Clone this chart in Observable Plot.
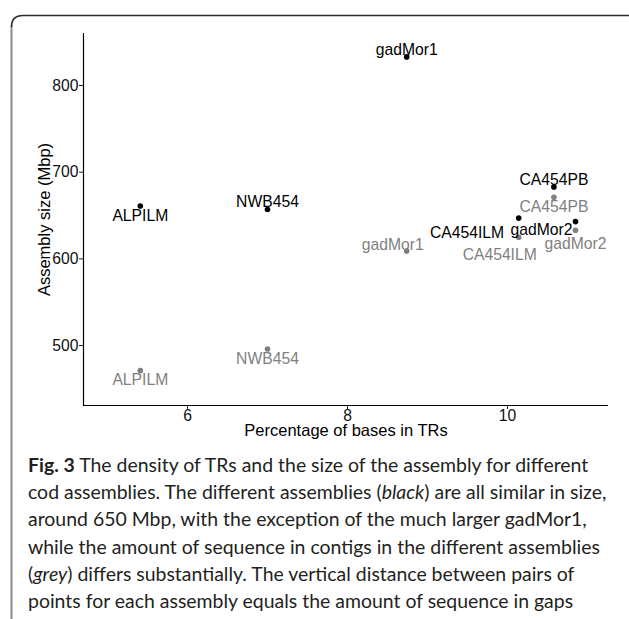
<!DOCTYPE html>
<html>
<head>
<meta charset="utf-8">
<script src="https://cdn.jsdelivr.net/npm/d3@7"></script>
<script src="https://cdn.jsdelivr.net/npm/@observablehq/plot@0.6"></script>
<style>
  html, body { margin: 0; padding: 0; background: #fff; }
  #page { position: relative; width: 629px; height: 619px; overflow: hidden; background: #fff; }
  #frame, #chart { position: absolute; left: 0; top: 0; }
</style>
</head>
<body>
<div id="page">
  <svg id="frame" width="629" height="619"></svg>
  <div id="chart"></div>
</div>
<script>
// ---- data ----
const assemblies   = ["ALPILM", "NWB454", "gadMor1", "CA454PB", "CA454ILM", "gadMor2"];
const trPercent    = [5.41, 7.00, 8.74, 10.58, 10.14, 10.85];   // % of bases in TRs
const assemblySize = [661, 657, 833, 683, 647, 643];            // black: assembly size (Mbp)
const contigSize   = [471, 496, 609, 671, 625, 633];            // grey: sequence in contigs (Mbp)
const xTicks = [6, 8, 10];
const yTicks = [500, 600, 700, 800];
const xDomain = [4.7, 11.2625];
const yDomain = [430.8, 860];
const xTitle = "Percentage of bases in TRs";
const yTitle = "Assembly size (Mbp)";
const captionLines = [
  [["b", "Fig. 3"], ["n", " The density of TRs and the size of the assembly for different"]],
  [["n", "cod assemblies. The different assemblies ("], ["i", "black"], ["n", ") are all similar in size,"]],
  [["n", "around 650 Mbp, with the exception of the much larger gadMor1,"]],
  [["n", "while the amount of sequence in contigs in the different assemblies"]],
  [["n", "("], ["i", "grey"], ["n", ") differs substantially. The vertical distance between pairs of"]],
  [["n", "points for each assembly equals the amount of sequence in gaps"]]
];

// ---- table built from the arrays ----
const rows = assemblies.flatMap((name, i) => [
  {name, series: "contigs", x: trPercent[i], y: contigSize[i]},
  {name, series: "assembly", x: trPercent[i], y: assemblySize[i]}
]);

// label placement (repel-style offsets, in pixels)
const nudge = {
  "assembly|ALPILM": [0, 9.5],   "contigs|ALPILM": [0, 9.5],
  "assembly|NWB454": [0, -7],    "contigs|NWB454": [0, 9.5],
  "assembly|gadMor1": [0, -7],   "contigs|gadMor1": [-14, -6],
  "assembly|CA454PB": [0, -7],   "contigs|CA454PB": [0, 9.5],
  "assembly|CA454ILM": [-51.7, 15], "contigs|CA454ILM": [-19, 18],
  "assembly|gadMor2": [-34, 8],  "contigs|gadMor2": [0, 13.5]
};
const colors = {assembly: "#000000", contigs: "#7f7f7f"};

const labelMarks = ["contigs", "assembly"].flatMap(s =>
  rows.filter(d => d.series === s).map(d => {
    const [dx, dy] = nudge[s + "|" + d.name];
    return Plot.text([d], {x: "x", y: "y", text: "name", dx, dy, fill: colors[s],
      lineAnchor: "middle", textAnchor: "middle", fontSize: 15.7});
  })
);

const chart = Plot.plot({
  width: 629,
  height: 445,
  marginLeft: 83,
  marginTop: 33,
  marginRight: 21,
  marginBottom: 40,
  x: {domain: xDomain},
  y: {domain: yDomain},
  style: {fontFamily: "'Liberation Sans', Arial, sans-serif", fontSize: "15.7px", color: "#000", background: "transparent", overflow: "visible"},
  marks: [
    Plot.axisX({ticks: xTicks, tickFormat: d3.format("d"), tickSize: 4, tickPadding: 0.5, label: null, fontSize: 15.7, stroke: "#222", fill: "#111"}),
    Plot.axisY({ticks: yTicks, tickFormat: d3.format("d"), tickSize: 4, tickPadding: 1, label: null, fontSize: 15.7, stroke: "#222", fill: "#111"}),
    Plot.ruleX([xDomain[0]], {stroke: "#000", strokeWidth: 1.2}),
    Plot.ruleY([yDomain[0]], {stroke: "#000", strokeWidth: 1.2}),
    Plot.dot(rows.filter(d => d.series === "contigs"), {x: "x", y: "y", r: 2.8, fill: colors.contigs, stroke: "none"}),
    Plot.dot(rows.filter(d => d.series === "assembly"), {x: "x", y: "y", r: 2.8, fill: colors.assembly, stroke: "none"}),
    ...labelMarks,
    Plot.text([xTitle], {text: d => d, frameAnchor: "bottom", textAnchor: "middle", lineAnchor: "bottom", dy: 30, fontSize: 16.5, fill: "#000"}),
    Plot.text([yTitle], {text: d => d, frameAnchor: "left", textAnchor: "middle", rotate: -90, lineAnchor: "middle", dx: -38.5, fontSize: 16.5, fill: "#000"})
  ]
});
document.getElementById("chart").appendChild(chart);

// ---- frame and caption ----
const svg = d3.select("#frame");
svg.append("path").attr("d", "M11.5,619 V26").attr("fill", "none").attr("stroke", "#8a8a8a").attr("stroke-width", 2);
svg.append("path").attr("d", "M11.5,27 Q11.5,15.5 23,15.5 H629").attr("fill", "none").attr("stroke", "#2b2b2b").attr("stroke-width", 1.6);

const cap = svg.append("g").attr("font-family", "Lato, 'Noto Sans', sans-serif").attr("fill", "#231f20");
const baselines = [472, 499.2, 526.4, 553.6, 580.8, 608];
const texts = captionLines.map((parts, i) => {
  const t = cap.append("text").attr("x", 28).attr("y", baselines[i]).attr("font-size", 20);
  parts.forEach(([k, s]) => {
    const ts = t.append("tspan").text(s);
    if (k === "b") ts.attr("font-weight", "bold");
    if (k === "i") ts.attr("font-style", "italic");
  });
  return t;
});
// fit caption size so the lines span about as wide as in the reference
const targetTotal = 558 + 577 + 552 + 584 + 542 + 551;
const total = texts.reduce((s, t) => s + t.node().getComputedTextLength(), 0);
const fs = 20 * targetTotal / total;
texts.forEach(t => t.attr("font-size", fs));
</script>
</body>
</html>
